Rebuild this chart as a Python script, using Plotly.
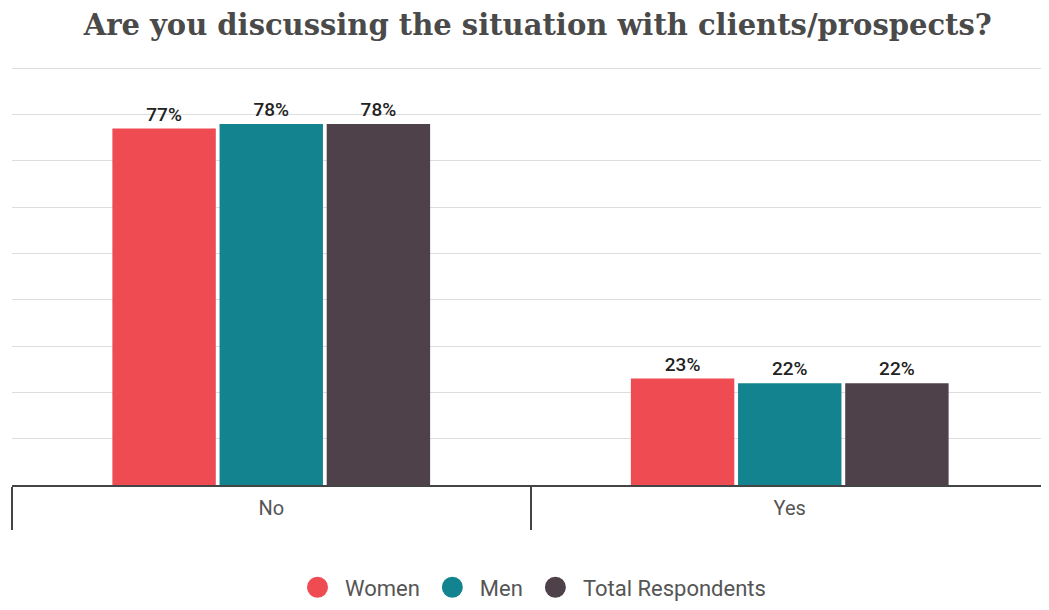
import plotly.graph_objects as go

categories = ["No", "Yes"]
series_names = ["Women", "Men", "Total Respondents"]
women = [77, 23]
men = [78, 22]
total = [78, 22]
colors = ["#EE4B52", "#13848F", "#4F4149"]

fig = go.Figure()
for name, vals, col in zip(series_names, [women, men, total], colors):
    fig.add_trace(go.Bar(
        x=categories, y=vals, name=name, marker=dict(color=col, line=dict(width=0)),
        text=[f"{v}%" for v in vals], textposition="outside",
        textfont=dict(family="Roboto", size=19, color="#222222", weight=500),
        cliponaxis=False, showlegend=False,
    ))
    fig.add_trace(go.Scatter(
        x=[None], y=[None], mode="markers", name=name,
        marker=dict(symbol="circle", size=24, color=col, line=dict(color=col, width=6)),
    ))

fig.update_layout(
    width=1049, height=610,
    paper_bgcolor="white", plot_bgcolor="white",
    margin=dict(l=4, r=8, t=59, b=133),
    barmode="group", bargap=0.38, bargroupgap=0.035,
    title=dict(text="<b>Are you discussing the situation with clients/prospects?</b>",
               x=0.505, xanchor="center", y=0.972, yanchor="middle",
               font=dict(family="DejaVu Serif", size=29, color="#4a4a4a")),
    font=dict(family="Roboto", color="#555555"),
    xaxis=dict(showline=True, linecolor="#444444", linewidth=2,
               ticks="outside", tickson="boundaries", ticklen=43, tickcolor="#444444", tickwidth=1.5,
               tickfont=dict(family="Roboto", size=20, color="#555555"),
               ticklabelstandoff=4,
               showgrid=False),
    yaxis=dict(range=[0, 90.3], dtick=10, showticklabels=False, showgrid=True,
               gridcolor="#dddddd", gridwidth=1, zeroline=False, showline=False),
    legend=dict(orientation="h", x=0.5, xanchor="center", y=-0.245, yanchor="middle",
                font=dict(family="Roboto", size=22, color="#555555"),
                itemsizing="trace", itemwidth=45),
)

fig.write_html("out.html")
